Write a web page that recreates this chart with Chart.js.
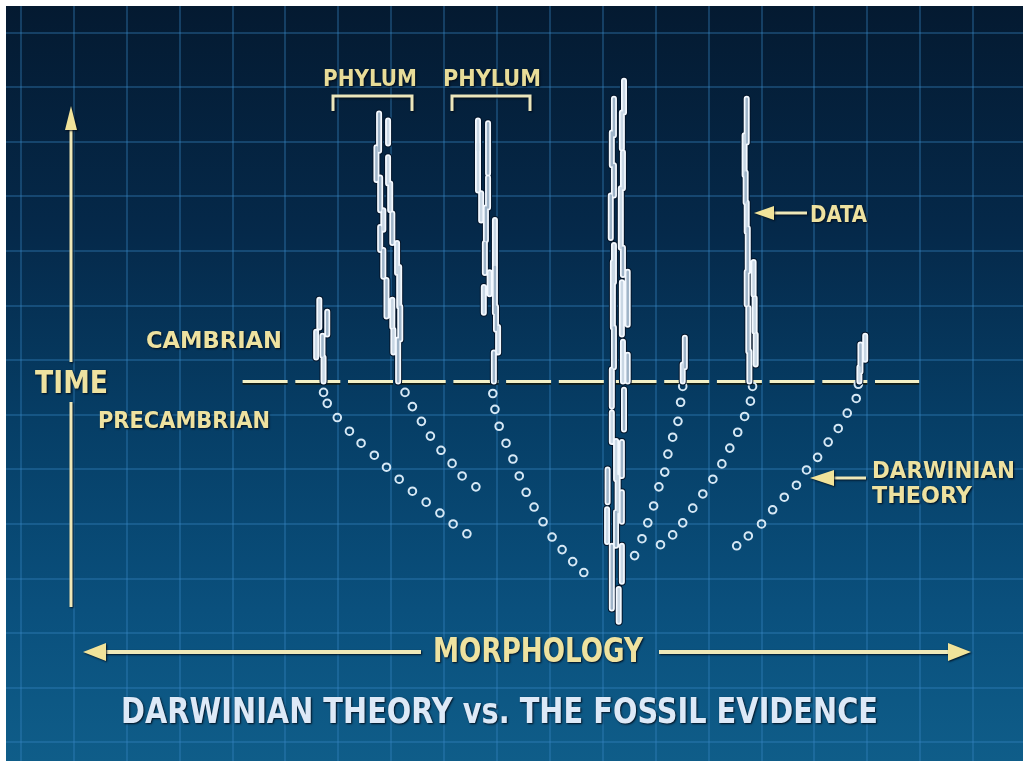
<!DOCTYPE html>
<html>
<head>
<meta charset="utf-8">
<script src="https://cdn.jsdelivr.net/npm/chart.js@4.4.1/dist/chart.umd.min.js"></script>
<style>
  html, body { margin: 0; padding: 0; background: #ffffff; }
  #wrap { width: 1029px; height: 767px; }
  canvas { display: block; }
</style>
</head>
<body>
<div id="wrap"><canvas id="c" width="1029" height="767"></canvas></div>
<script>
// ---------------- DATA (morphology in grid units, time in grid units; 0 = Cambrian boundary) ----------------
// Fossil "data" columns: [morphology, top time, bottom time] for each recorded fossil dash
const fossilsCol1 = [[5.64,1.50,0.99],[5.79,1.28,0.86],[5.58,0.91,0.44],[5.70,0.84,0.47],[5.72,0.44,0.00]];
const fossilsCol2 = [[6.77,4.91,4.23],[6.94,4.78,4.36],[6.72,4.29,3.69],[6.94,4.11,3.63],[6.79,3.74,3.14],[6.98,3.63,3.14],
  [7.02,3.08,2.54],[6.85,3.14,2.78],[6.79,2.83,2.41],[7.11,2.54,1.99],[6.85,2.41,1.92],[7.15,2.10,1.37],[6.91,1.86,1.19],
  [7.02,1.50,1.00],[7.17,1.37,0.77],[7.04,0.95,0.53],[7.13,0.77,0.00]];
const fossilsCol3 = [[8.64,4.78,4.23],[8.83,4.73,3.81],[8.64,4.36,3.50],[8.83,3.74,3.19],[8.70,3.45,2.95],[8.79,3.19,2.59],
  [8.96,2.96,2.10],[8.77,2.54,1.99],[8.86,2.00,1.60],[8.96,2.10,1.26],[8.75,1.73,1.26],[8.98,1.37,0.95],[9.02,1.00,0.53],
  [8.94,0.53,0.00]];
const fossilsCol4 = [[11.40,5.51,4.93],[11.21,5.18,4.51],[11.36,4.93,4.27],[11.17,4.56,3.96],[11.38,4.20,3.54],[11.21,3.96,3.41],
  [11.34,3.54,2.45],[11.15,3.41,2.63],[11.21,2.50,1.82],[11.38,2.45,1.95],[11.19,2.19,0.99],[11.47,2.01,1.04],[11.36,1.82,0.86],
  [11.21,0.99,0.26],[11.38,0.73,0.00],[11.47,0.49,0.00],[11.17,0.22,-0.46],[11.40,-0.15,-0.88],[11.17,-0.57,-1.11],
  [11.36,-1.11,-1.73],[11.25,-1.09,-1.79],[11.09,-1.61,-2.21],[11.28,-1.73,-2.39],[11.36,-2.03,-2.57],[11.08,-2.34,-2.94],
  [11.25,-2.39,-3.01],[11.36,-3.01,-3.67],[11.17,-3.01,-4.16],[11.30,-3.80,-4.40]];
const fossilsCol5 = [[12.55,0.80,0.26],[12.51,0.31,0.00]];
const fossilsCol6 = [[13.72,5.18,4.38],[13.68,4.51,3.78],[13.70,3.83,3.28],[13.72,3.28,2.74],[13.74,2.81,2.01],[13.85,2.19,1.59],
  [13.72,2.01,1.41],[13.87,1.53,0.91],[13.75,1.35,0.55],[13.89,0.86,0.31],[13.77,0.55,0.00]];
const fossilsCol7 = [[15.96,0.84,0.40],[15.87,0.68,0.18],[15.85,0.26,0.00]];

// Darwinian theory: predicted ancestral chains (morphology, time)
const darwinA_x = [5.72,5.79,5.98,6.21,6.43,6.68,6.91,7.15,7.40,7.66,7.92,8.17,8.43];
const darwinA_t = [-0.20,-0.40,-0.66,-0.91,-1.13,-1.35,-1.57,-1.79,-2.01,-2.21,-2.41,-2.61,-2.79];
const darwinB_x = [7.26,7.40,7.57,7.74,7.94,8.15,8.34,8.60];
const darwinB_t = [-0.20,-0.46,-0.73,-1.00,-1.26,-1.50,-1.73,-1.93];
const darwinC_x = [8.92,8.96,9.04,9.17,9.30,9.42,9.55,9.70,9.87,10.04,10.23,10.43,10.64];
const darwinC_t = [-0.22,-0.51,-0.82,-1.13,-1.42,-1.73,-2.03,-2.30,-2.57,-2.85,-3.08,-3.30,-3.50];
const darwinD_x = [12.51,12.47,12.42,12.32,12.23,12.17,12.06,11.96,11.85,11.74,11.60];
const darwinD_t = [-0.09,-0.38,-0.73,-1.02,-1.33,-1.66,-1.93,-2.28,-2.59,-2.88,-3.19];
const darwinE_x = [13.83,13.79,13.68,13.55,13.40,13.25,13.08,12.89,12.70,12.51,12.32,12.09];
const darwinE_t = [-0.09,-0.36,-0.64,-0.93,-1.22,-1.51,-1.79,-2.06,-2.32,-2.59,-2.81,-2.99];
const darwinF_x = [15.83,15.79,15.62,15.45,15.26,15.06,14.85,14.66,14.43,14.21,14.00,13.75,13.53];
const darwinF_t = [-0.05,-0.31,-0.58,-0.86,-1.11,-1.39,-1.62,-1.90,-2.12,-2.35,-2.61,-2.83,-3.01];

// Cambrian / Precambrian boundary
const boundaryX = [4.19, 16.98];
const boundaryT = [0, 0];

// Grid ticks
const morphTicks = [0,1,2,3,4,5,6,7,8,9,10,11,12,13,14,15,16,17,18];
const timeTicks = [6.39,5.39,4.39,3.39,2.39,1.39,0.39,-0.61,-1.61,-2.61,-3.61,-4.61,-5.61,-6.61];

// Labels
const titleText = 'DARWINIAN THEORY vs. THE FOSSIL EVIDENCE';
const xLabel = 'MORPHOLOGY';
const yLabel = 'TIME';
const eraAbove = 'CAMBRIAN';
const eraBelow = 'PRECAMBRIAN';
const phylumLabel = 'PHYLUM';
const dataLabel = 'DATA';
const theoryLabel = ['DARWINIAN', 'THEORY'];

// ---------------- BUILD ----------------
const allColumns = [fossilsCol1, fossilsCol2, fossilsCol3, fossilsCol4, fossilsCol5, fossilsCol6, fossilsCol7];
const dashPoints = [];
allColumns.forEach(col => col.forEach(d => {
  dashPoints.push({x: d[0], y: d[1]}, {x: d[0], y: d[2]}, {x: null, y: null});
}));
const chains = [[darwinA_x, darwinA_t],[darwinB_x, darwinB_t],[darwinC_x, darwinC_t],
                [darwinD_x, darwinD_t],[darwinE_x, darwinE_t],[darwinF_x, darwinF_t]];
const circlePoints = [];
chains.forEach(([xs, ts]) => xs.forEach((x, i) => circlePoints.push({x, y: ts[i]})));
const boundaryPoints = boundaryX.map((x, i) => ({x, y: boundaryT[i]}));

const YELLOW = '#eee2a0';
const CREAM = '#efe8b8';
const FONT = "'Liberation Sans Narrow','DejaVu Sans Condensed','Liberation Sans',sans-serif";

function fitText(ctx, str, x, baseline, cap, width, color) {
  const size = cap / 0.72;
  ctx.save();
  ctx.font = 'bold ' + size + 'px ' + FONT;
  const w = ctx.measureText(str).width;
  ctx.translate(x, baseline);
  ctx.scale(width / w, 1);
  ctx.shadowColor = 'rgba(0,8,20,0.9)';
  ctx.shadowBlur = 2;
  ctx.shadowOffsetX = 1;
  ctx.shadowOffsetY = 1;
  ctx.fillStyle = color;
  ctx.textBaseline = 'alphabetic';
  ctx.fillText(str, 0, 0);
  ctx.restore();
}

function strokePath(ctx, pts, color, width) {
  ctx.save();
  ctx.shadowColor = 'rgba(0,8,20,0.85)';
  ctx.shadowBlur = 2;
  ctx.shadowOffsetX = 1;
  ctx.shadowOffsetY = 1;
  ctx.strokeStyle = color;
  ctx.lineWidth = width;
  ctx.lineCap = 'butt';
  ctx.beginPath();
  ctx.moveTo(pts[0][0], pts[0][1]);
  for (let i = 1; i < pts.length; i++) ctx.lineTo(pts[i][0], pts[i][1]);
  ctx.stroke();
  ctx.restore();
}

function arrowHead(ctx, pts, color) {
  ctx.save();
  ctx.shadowColor = 'rgba(0,8,20,0.85)';
  ctx.shadowBlur = 2;
  ctx.shadowOffsetX = 1;
  ctx.shadowOffsetY = 1;
  ctx.fillStyle = color;
  ctx.beginPath();
  ctx.moveTo(pts[0][0], pts[0][1]);
  for (let i = 1; i < pts.length; i++) ctx.lineTo(pts[i][0], pts[i][1]);
  ctx.closePath();
  ctx.fill();
  ctx.restore();
}

const backgroundPlugin = {
  id: 'bg',
  beforeDraw(chart) {
    const {ctx, chartArea: a} = chart;
    ctx.save();
    ctx.fillStyle = '#ffffff';
    ctx.fillRect(0, 0, chart.width, chart.height);
    const g = ctx.createLinearGradient(0, a.top, 0, a.bottom);
    g.addColorStop(0, '#041a31');
    g.addColorStop(0.3, '#05294a');
    g.addColorStop(0.55, '#063e66');
    g.addColorStop(0.8, '#0a507d');
    g.addColorStop(1, '#0f5d89');
    ctx.fillStyle = g;
    ctx.fillRect(a.left, a.top, a.right - a.left, a.bottom - a.top);
    ctx.restore();
  }
};

const annotationPlugin = {
  id: 'annot',
  afterDraw(chart) {
    const ctx = chart.ctx;
    // PHYLUM labels and brackets
    fitText(ctx, phylumLabel, 323, 86, 17, 94, '#e8dc98');
    fitText(ctx, phylumLabel, 443, 86, 17, 98, '#e8dc98');
    strokePath(ctx, [[333,111],[333,96],[412,96],[412,111]], '#ebe6bc', 3);
    strokePath(ctx, [[452,111],[452,96],[530,96],[530,111]], '#ebe6bc', 3);

    // TIME axis arrow
    strokePath(ctx, [[71,607],[71,402]], CREAM, 3);
    strokePath(ctx, [[71,362],[71,126]], CREAM, 3);
    arrowHead(ctx, [[71,106],[65,130],[77,130]], '#f1e39a');
    fitText(ctx, yLabel, 35, 393, 23, 73, YELLOW);

    // Era labels
    fitText(ctx, eraAbove, 146, 348, 17, 136, YELLOW);
    fitText(ctx, eraBelow, 98, 428, 16, 172, YELLOW);

    // DATA label + arrow
    strokePath(ctx, [[772,213],[807,213]], CREAM, 3);
    arrowHead(ctx, [[754,213],[774,206],[774,220]], '#f1e39a');
    fitText(ctx, dataLabel, 810, 222, 16, 57, YELLOW);

    // DARWINIAN THEORY label + arrow
    strokePath(ctx, [[832,478],[866,478]], CREAM, 3);
    arrowHead(ctx, [[810,478],[834,470],[834,486]], '#f1e39a');
    fitText(ctx, theoryLabel[0], 872, 478, 17, 143, YELLOW);
    fitText(ctx, theoryLabel[1], 872, 503, 17, 100, YELLOW);

    // MORPHOLOGY axis arrow
    strokePath(ctx, [[103,652],[421,652]], CREAM, 4);
    strokePath(ctx, [[659,652],[950,652]], CREAM, 4);
    arrowHead(ctx, [[83,652],[106,643],[106,661]], '#f1e39a');
    arrowHead(ctx, [[971,652],[948,643],[948,661]], '#f1e39a');
    fitText(ctx, xLabel, 433, 662, 24, 210, YELLOW);

    // Title
    fitText(ctx, titleText, 121, 723, 25, 757, '#dde9f7');
  }
};

const innerColor = c => (Math.floor(c.p0DataIndex / 3) % 2 === 0) ? '#c9d7e4' : '#9fb4c8';

new Chart(document.getElementById('c'), {
  type: 'scatter',
  data: {
    datasets: [
      {
        label: 'Fossil data core',
        data: dashPoints,
        showLine: true,
        spanGaps: false,
        pointRadius: 0,
        borderWidth: 2.5,
        borderCapStyle: 'round',
        borderColor: '#b9c9d8',
        segment: { borderColor: innerColor },
        order: 0
      },
      {
        label: 'Fossil data',
        data: dashPoints,
        showLine: true,
        spanGaps: false,
        pointRadius: 0,
        borderWidth: 6,
        borderCapStyle: 'round',
        borderColor: '#f4f9ff',
        order: 1
      },
      {
        label: 'Fossil data outline',
        data: dashPoints,
        showLine: true,
        spanGaps: false,
        pointRadius: 0,
        borderWidth: 8,
        borderCapStyle: 'round',
        borderColor: '#03152a',
        order: 2
      },
      {
        label: 'Darwinian theory',
        data: circlePoints,
        showLine: false,
        pointStyle: 'circle',
        pointRadius: 3.8,
        borderWidth: 2,
        borderColor: '#d6e8f5',
        backgroundColor: 'rgba(0,0,0,0)',
        order: 3
      },
      {
        label: 'Cambrian boundary',
        data: boundaryPoints,
        showLine: true,
        pointRadius: 0,
        borderWidth: 3,
        borderDash: [45, 7.7],
        borderColor: '#f3f0c6',
        order: 4
      },
      {
        label: 'Cambrian boundary shadow',
        data: boundaryPoints.map(p => ({x: p.x, y: p.y - 0.04})),
        showLine: true,
        pointRadius: 0,
        borderWidth: 2,
        borderDash: [45, 7.7],
        borderColor: 'rgba(20,25,10,0.85)',
        order: 5
      }
    ]
  },
  options: {
    responsive: false,
    animation: false,
    devicePixelRatio: 1,
    layout: { padding: { left: 5, top: 5, right: 5, bottom: 4 } },
    plugins: { legend: { display: false }, tooltip: { enabled: false }, title: { display: false } },
    scales: {
      x: {
        type: 'linear', min: -0.283, max: 18.943,
        afterBuildTicks: s => { s.ticks = morphTicks.map(v => ({value: v})); },
        ticks: { display: false },
        grid: { color: 'rgba(55,135,195,0.34)', lineWidth: 2, drawTicks: false },
        border: { display: false }
      },
      y: {
        type: 'linear', min: -6.953, max: 6.880,
        afterBuildTicks: s => { s.ticks = timeTicks.map(v => ({value: v})); },
        ticks: { display: false },
        grid: { color: 'rgba(55,135,195,0.34)', lineWidth: 2, drawTicks: false },
        border: { display: false }
      }
    }
  },
  plugins: [backgroundPlugin, annotationPlugin]
});
</script>
</body>
</html>
